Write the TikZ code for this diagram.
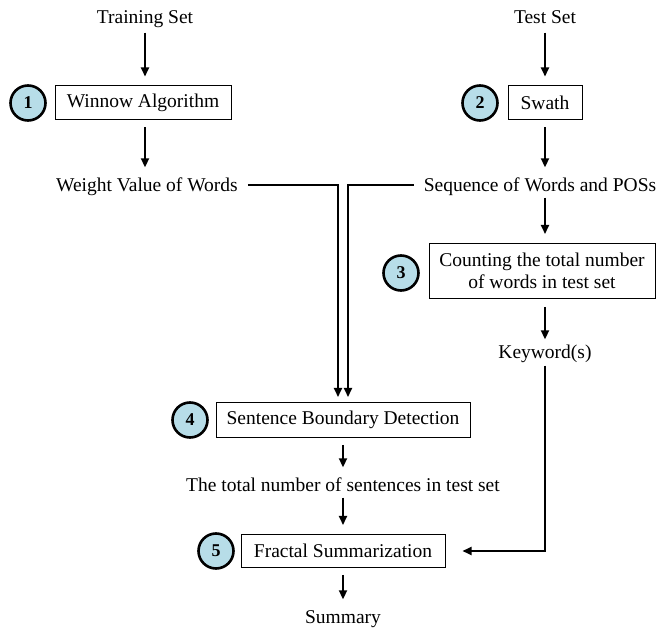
\documentclass[tikz,border=0pt]{standalone}
\usepackage{fontspec}
\setmainfont{Liberation Serif}
\usetikzlibrary{arrows.meta}

\tikzset{
  stepbox/.style={draw,line width=1pt,inner sep=0pt},
  txt/.style={inner sep=0pt,text height=15pt,text depth=2pt},
  num/.style={circle,draw,line width=2.6pt,fill=numblue,minimum size=35pt,inner sep=0pt,font=\fontsize{18}{20}\selectfont\bfseries},
  flow/.style={-{Triangle[length=9pt,width=8pt]},line width=2pt,shorten <=7pt,shorten >=9pt},
}
\definecolor{numblue}{HTML}{B7DDE8}

\begin{document}
\begin{tikzpicture}[x=1pt,y=-1pt,font=\fontsize{19.5}{24}\selectfont]
  \useasboundingbox (0,0) rectangle (657,628);
  % 输入
  \node[txt] (train) at (145,17) {Training Set};
  \node[txt] (test) at (545,17) {Test Set};
  % 步骤 1, 2
  \node[stepbox,minimum width=176pt,minimum height=34pt] (winnow) at (143,103) {Winnow Algorithm};
  \node[num] (n1) at (28,103) {1};
  \node[stepbox,minimum width=74pt,minimum height=34pt] (swath) at (545,103) {Swath};
  \node[num] (n2) at (480,103) {2};
  \draw[flow] (train.south) -- (train.south |- winnow.north);
  \draw[flow] (test) -- (swath);
  % 中间结果
  \node[txt] (weight) at (147,185) {Weight Value of Words};
  \node[txt] (seq) at (540,185) {Sequence of Words and POSs};
  \draw[flow] (winnow.south -| train) -- (weight.north -| train);
  \draw[flow] (swath) -- (seq.north -| swath);
  % 步骤 3
  \node[stepbox,minimum width=226pt,minimum height=55pt,align=center] (count) at (542,271)
    {Counting the total number\\[-2pt]of words in test set};
  \node[num] (n3) at (401,273) {3};
  \node[txt] (kw) at (545,352) {Keyword(s)};
  \draw[flow,shorten <=4pt] (seq.south -| swath) -- (count.north -| swath);
  \draw[flow,shorten <=8pt,shorten >=4pt] (count.south -| swath) -- (kw);
  % 步骤 4
  \node[stepbox,minimum width=254pt,minimum height=35pt] (sbd) at (343,420) {Sentence Boundary Detection};
  \node[num] (n4) at (190,420) {4};
  \draw[flow,shorten <=10pt,shorten >=5pt] (weight.east) -| ([xshift=-5pt]sbd.north);
  \draw[flow,shorten <=10pt,shorten >=5pt] (seq.west) -| ([xshift=5pt]sbd.north);
  \node[txt] (total) at (343,485) {The total number of sentences in test set};
  \draw[flow] (sbd) -- (total);
  % 步骤 5
  \node[stepbox,minimum width=204pt,minimum height=33pt] (frac) at (343,551) {Fractal Summarization};
  \node[num] (n5) at (216,551) {5};
  \draw[flow,shorten <=4pt] (total) -- (frac);
  \draw[flow,shorten <=5pt,shorten >=17pt] (kw) |- (frac);
  \node[txt] (summ) at (343,617) {Summary};
  \draw[flow] (frac) -- (summ);
\end{tikzpicture}
\end{document}
